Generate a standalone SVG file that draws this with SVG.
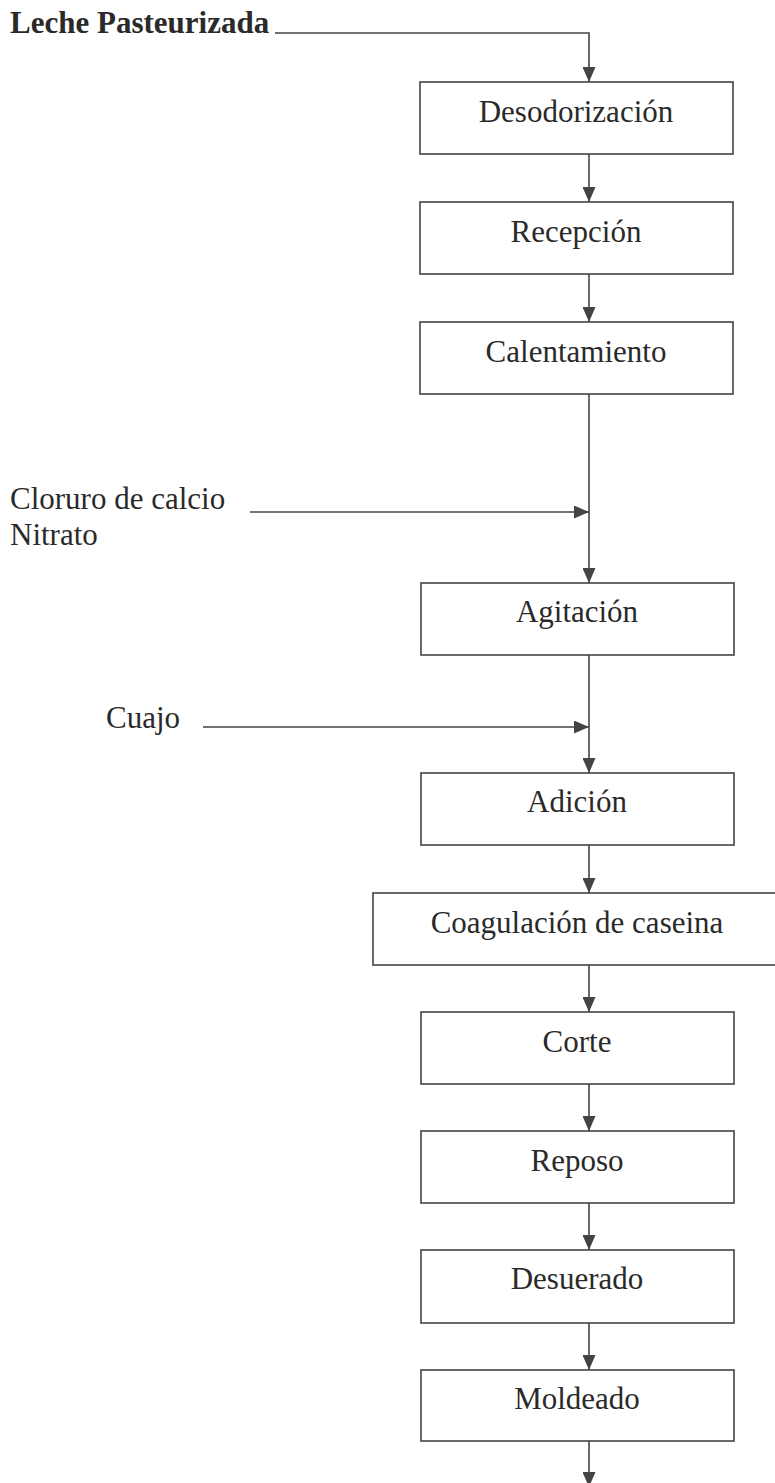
<svg xmlns="http://www.w3.org/2000/svg" width="775" height="1483" viewBox="0 0 775 1483">
<style>
.box{fill:#fff;stroke:#444;stroke-width:1.6}
.lbl{font-family:"Liberation Serif","Times New Roman",serif;font-size:31px;fill:#2a2a2a}
.c{text-anchor:middle}
.conn{fill:none;stroke:#444;stroke-width:1.6}
</style>
<defs>
<marker id="ah" markerUnits="userSpaceOnUse" markerWidth="15" markerHeight="13" refX="15" refY="6.5" orient="auto">
<path d="M0,0 L15,6.5 L0,13 z" fill="#444"/>
</marker>
</defs>
<rect width="775" height="1483" fill="#fff"/>
<g id="connectors">
<polyline class="conn" points="275,33 589,33 589,82" marker-end="url(#ah)"/>
<line class="conn" x1="589" y1="154" x2="589" y2="202" marker-end="url(#ah)"/>
<line class="conn" x1="589" y1="274" x2="589" y2="322" marker-end="url(#ah)"/>
<line class="conn" x1="589" y1="394" x2="589" y2="583" marker-end="url(#ah)"/>
<line class="conn" x1="250" y1="512" x2="589" y2="512" marker-end="url(#ah)"/>
<line class="conn" x1="589" y1="655" x2="589" y2="773" marker-end="url(#ah)"/>
<line class="conn" x1="203" y1="727" x2="589" y2="727" marker-end="url(#ah)"/>
<line class="conn" x1="589" y1="845" x2="589" y2="893" marker-end="url(#ah)"/>
<line class="conn" x1="589" y1="965" x2="589" y2="1012" marker-end="url(#ah)"/>
<line class="conn" x1="589" y1="1084" x2="589" y2="1131" marker-end="url(#ah)"/>
<line class="conn" x1="589" y1="1203" x2="589" y2="1250" marker-end="url(#ah)"/>
<line class="conn" x1="589" y1="1323" x2="589" y2="1370" marker-end="url(#ah)"/>
<line class="conn" x1="589" y1="1441" x2="589" y2="1487" marker-end="url(#ah)"/>
</g>
<g id="input-leche"><text class="lbl" x="10" y="33" font-weight="bold">Leche Pasteurizada</text></g>
<g id="input-cloruro"><text class="lbl" x="10" y="509">Cloruro de calcio</text><text class="lbl" x="10" y="545">Nitrato</text></g>
<g id="input-cuajo"><text class="lbl" x="106" y="728">Cuajo</text></g>
<g id="desodorizacion"><rect class="box" x="420" y="82" width="313" height="72"/><text class="lbl c" x="576" y="122">Desodorización</text></g>
<g id="recepcion"><rect class="box" x="420" y="202" width="313" height="72"/><text class="lbl c" x="576" y="242">Recepción</text></g>
<g id="calentamiento"><rect class="box" x="420" y="322" width="313" height="72"/><text class="lbl c" x="576" y="362">Calentamiento</text></g>
<g id="agitacion"><rect class="box" x="421" y="583" width="313" height="72"/><text class="lbl c" x="577" y="622">Agitación</text></g>
<g id="adicion"><rect class="box" x="421" y="773" width="313" height="72"/><text class="lbl c" x="577" y="812">Adición</text></g>
<g id="coagulacion"><rect class="box" x="373" y="893" width="410" height="72"/><text class="lbl c" x="577" y="933">Coagulación de caseina</text></g>
<g id="corte"><rect class="box" x="421" y="1012" width="313" height="72"/><text class="lbl c" x="577" y="1052">Corte</text></g>
<g id="reposo"><rect class="box" x="421" y="1131" width="313" height="72"/><text class="lbl c" x="577" y="1171">Reposo</text></g>
<g id="desuerado"><rect class="box" x="421" y="1250" width="313" height="73"/><text class="lbl c" x="577" y="1289">Desuerado</text></g>
<g id="moldeado"><rect class="box" x="421" y="1370" width="313" height="71"/><text class="lbl c" x="577" y="1409">Moldeado</text></g>
</svg>
